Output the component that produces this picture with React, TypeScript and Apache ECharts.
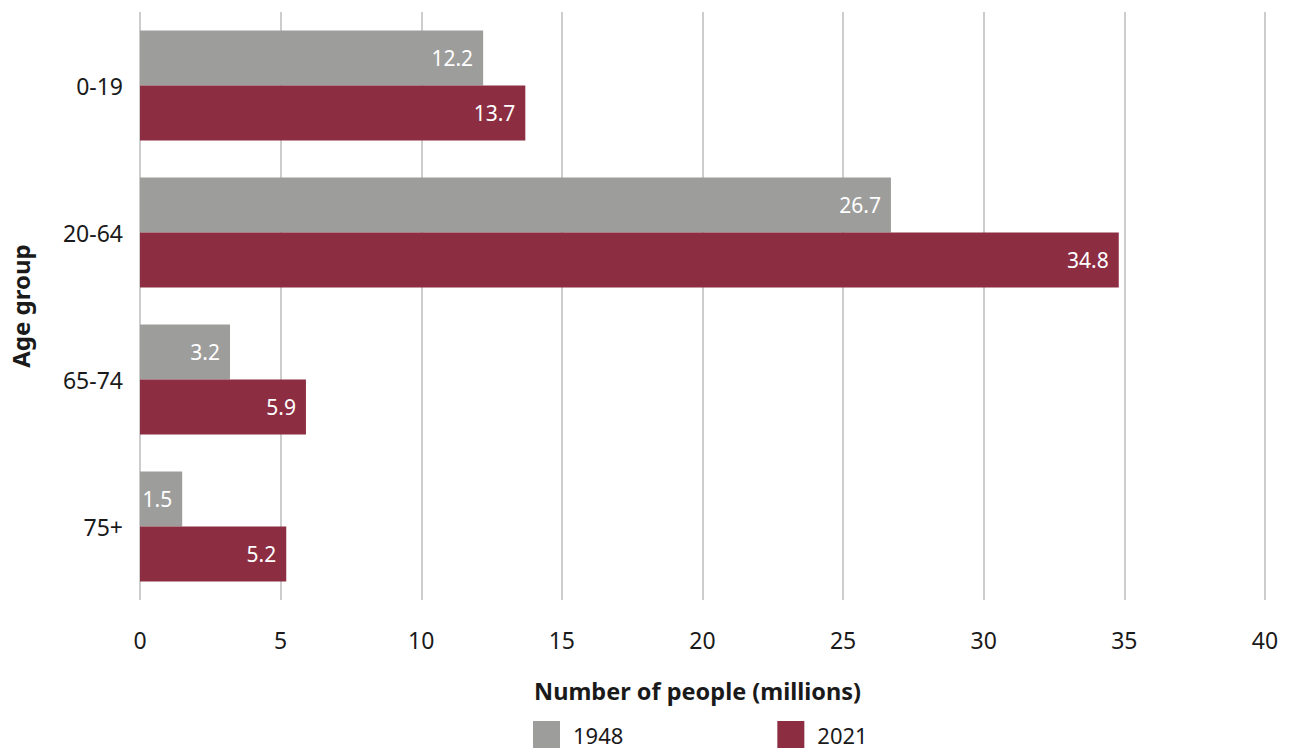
import React, { useEffect, useRef } from "react";
import * as echarts from "echarts";

const categories = ["0-19", "20-64", "65-74", "75+"];
const values1948 = [12.2, 26.7, 3.2, 1.5];
const values2021 = [13.7, 34.8, 5.9, 5.2];
const seriesNames = ["1948", "2021"];

const FONT = "'Noto Sans', sans-serif";

export default function App() {
  const ref = useRef<HTMLDivElement>(null);
  useEffect(() => {
    document.body.style.margin = "0";
    const chart = echarts.init(ref.current!, null, { renderer: "svg" });
    const label = {
      show: true,
      position: "insideRight",
      distance: 10,
      color: "#ffffff",
      fontSize: 21,
      fontFamily: FONT,
    };
    chart.setOption({
      animation: false,
      textStyle: { fontFamily: FONT },
      grid: { left: 138, right: 24, top: 12, bottom: 149, containLabel: false },
      legend: {
        data: seriesNames,
        left: 533,
        top: 721,
        padding: 0,
        itemWidth: 27,
        itemHeight: 27,
        itemGap: 154,
        icon: "rect",
        textStyle: { fontSize: 22, color: "#1a1a1a", fontFamily: FONT, padding: [0, 0, 0, 8] },
      },
      xAxis: {
        type: "value",
        min: 0,
        max: 40,
        interval: 5,
        name: "Number of people (millions)",
        nameLocation: "middle",
        nameGap: 79,
        nameTextStyle: { fontSize: 23.5, fontWeight: "bold", color: "#1a1a1a", fontFamily: FONT, padding: [0, 10, 0, 0] },
        axisLine: { show: false },
        axisTick: { show: false },
        axisLabel: { fontSize: 23, color: "#1a1a1a", margin: 28, fontFamily: FONT },
        splitLine: { show: true, lineStyle: { color: "#bdbdbd", width: 1.5 } },
      },
      yAxis: {
        type: "category",
        data: categories,
        inverse: true,
        name: "Age group",
        nameLocation: "middle",
        nameGap: 108,
        nameRotate: 90,
        nameTextStyle: { fontSize: 24, fontWeight: "bold", color: "#1a1a1a", fontFamily: FONT },
        axisLine: { show: false },
        axisTick: { show: false },
        axisLabel: { fontSize: 23, color: "#1a1a1a", margin: 17, fontFamily: FONT },
        splitLine: { show: false },
      },
      series: [
        {
          name: seriesNames[0],
          type: "bar",
          data: values1948,
          barWidth: 55,
          barGap: "0%",
          itemStyle: { color: "#9d9d9c" },
          label,
        },
        {
          name: seriesNames[1],
          type: "bar",
          data: values2021,
          barWidth: 55,
          barGap: "0%",
          itemStyle: { color: "#8c2d42" },
          label,
        },
      ],
    });
    return () => chart.dispose();
  }, []);
  return <div ref={ref} style={{ width: 1289, height: 749 }} />;
}
